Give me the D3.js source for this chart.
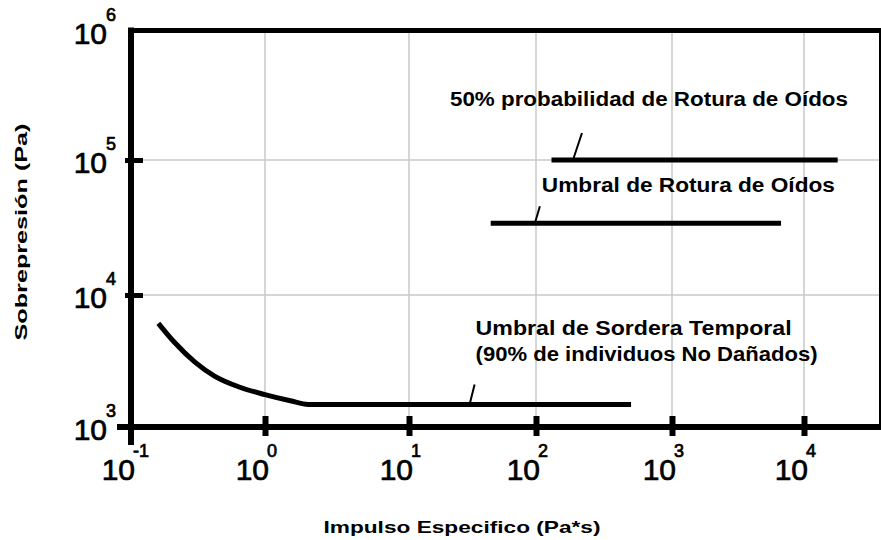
<!DOCTYPE html>
<html>
<head>
<meta charset="utf-8">
<script src="https://cdn.jsdelivr.net/npm/d3@7/dist/d3.min.js"></script>
<style>
  body { margin: 0; background: #fff; }
  svg { display: block; }
  text { font-family: "Liberation Sans", Arial, sans-serif; fill: #000; }
  .tickLabel { stroke: #000; stroke-width: 0.7px; }
</style>
</head>
<body>
<div id="chart"></div>
<script>
// tick values (decades) and their exponents
const xDecades = [0.1, 1, 10, 100, 1000, 10000];
const xExponents = ["-1", "0", "1", "2", "3", "4"];
const yDecades = [1e3, 1e4, 1e5, 1e6];
const yExponents = ["3", "4", "5", "6"];

// Umbral de sordera temporal (curve + flat part)
const tempImpulse = [0.16, 0.21, 0.3, 0.42, 0.65, 1.0, 1.5, 2.0, 500];
const tempPressure = [6100, 4400, 3100, 2430, 2000, 1760, 1580, 1480, 1480];

// Umbral de rotura de oidos
const ruptureImpulse = [44, 6700];
const rupturePressure = [34000, 34000];

// 50% probabilidad de rotura de oidos
const rupture50Impulse = [130, 18000];
const rupture50Pressure = [1e5, 1e5];

// where the little leader lines touch each curve
const leaderImpulse = [187, 98, 30];
const leaderPressure = [1e5, 34000, 1480];

const width = 881, height = 540;

const svg = d3.select("#chart").append("svg")
  .attr("width", width)
  .attr("height", height);

// the original figure is slightly uneven, hence the piecewise ranges
const x = d3.scaleLog().domain(xDecades).range([131, 265, 409, 536, 672, 804]);
const y = d3.scaleLog().domain(yDecades).range([427, 295, 160, 30.5]);

const gridColor = "#c8c8c8";

// gridlines
svg.append("g")
  .selectAll("line")
  .data(xDecades.slice(1))
  .enter().append("line")
  .attr("x1", d => x(d)).attr("x2", d => x(d))
  .attr("y1", y(1e6)).attr("y2", y(1e3))
  .attr("stroke", gridColor).attr("stroke-width", 1.5);

svg.append("g")
  .selectAll("line")
  .data([1e4, 1e5])
  .enter().append("line")
  .attr("x1", x(0.1)).attr("x2", width)
  .attr("y1", d => y(d)).attr("y2", d => y(d))
  .attr("stroke", gridColor).attr("stroke-width", 1.5);

// frame: top border, left and bottom axes, thin right edge
svg.append("line")
  .attr("x1", x(0.1) - 3).attr("x2", width)
  .attr("y1", y(1e6)).attr("y2", y(1e6))
  .attr("stroke", "#000").attr("stroke-width", 5);
svg.append("line")
  .attr("x1", width - 1).attr("x2", width - 1)
  .attr("y1", y(1e6)).attr("y2", y(1e3))
  .attr("stroke", "#000").attr("stroke-width", 2);
svg.append("line")
  .attr("x1", 117).attr("x2", width)
  .attr("y1", y(1e3)).attr("y2", y(1e3))
  .attr("stroke", "#000").attr("stroke-width", 6);
svg.append("line")
  .attr("x1", x(0.1)).attr("x2", x(0.1))
  .attr("y1", y(1e6) - 3).attr("y2", 445)
  .attr("stroke", "#000").attr("stroke-width", 6);

// tick marks crossing the axes
const xAxis = svg.append("g")
  .attr("transform", "translate(0," + (y(1e3) - 11) + ")")
  .call(d3.axisBottom(x).tickValues(xDecades.slice(1)).tickSizeInner(20).tickSizeOuter(0).tickFormat(""));
xAxis.select(".domain").remove();
xAxis.selectAll(".tick line").attr("stroke", "#000").attr("stroke-width", 6);

const yAxis = svg.append("g")
  .attr("transform", "translate(" + (x(0.1) + 12) + ",0)")
  .call(d3.axisLeft(y).tickValues([1e4, 1e5]).tickSizeInner(18).tickSizeOuter(0).tickFormat(""));
yAxis.select(".domain").remove();
yAxis.selectAll(".tick line").attr("stroke", "#000").attr("stroke-width", 5);

// x tick labels: 10 with superscript exponent
const xLab = svg.append("g").selectAll("g")
  .data(xDecades)
  .enter().append("g");
xLab.append("text")
  .attr("class", "tickLabel")
  .attr("x", d => x(d) + 4)
  .attr("y", 480)
  .attr("text-anchor", "end")
  .style("font-size", "30px")
  .text("10");
xLab.append("text")
  .attr("class", "tickLabel")
  .attr("x", d => x(d) + 2)
  .attr("y", 457)
  .style("font-size", "18px")
  .text((d, i) => xExponents[i]);

// y tick labels
const yLab = svg.append("g").selectAll("g")
  .data(yDecades)
  .enter().append("g");
yLab.append("text")
  .attr("class", "tickLabel")
  .attr("x", 107)
  .attr("y", d => y(d) + 13)
  .attr("text-anchor", "end")
  .style("font-size", "30px")
  .text("10");
yLab.append("text")
  .attr("class", "tickLabel")
  .attr("x", 106)
  .attr("y", d => y(d) - 10)
  .style("font-size", "18px")
  .text((d, i) => yExponents[i]);

// axis titles
svg.append("text")
  .attr("x", 462).attr("y", 533)
  .attr("text-anchor", "middle")
  .attr("textLength", 277).attr("lengthAdjust", "spacingAndGlyphs")
  .style("font-size", "17px").style("font-weight", "bold")
  .text("Impulso Especifico (Pa*s)");

svg.append("text")
  .attr("transform", "translate(27,232) rotate(-90)")
  .attr("text-anchor", "middle")
  .attr("textLength", 217).attr("lengthAdjust", "spacingAndGlyphs")
  .style("font-size", "16px").style("font-weight", "bold")
  .text("Sobrepresión (Pa)");

// curves
const line = d3.line()
  .x(d => x(d[0]))
  .y(d => y(d[1]))
  .curve(d3.curveMonotoneX);

const series = [
  d3.zip(rupture50Impulse, rupture50Pressure),
  d3.zip(ruptureImpulse, rupturePressure),
  d3.zip(tempImpulse, tempPressure)
];

svg.append("g")
  .selectAll("path")
  .data(series)
  .enter().append("path")
  .attr("d", line)
  .attr("fill", "none")
  .attr("stroke", "#000")
  .attr("stroke-width", 5)
  .attr("stroke-linejoin", "round");

// leaders + annotation texts
const notes = [
  { lines: ["50% probabilidad de Rotura de Oídos"], lens: [398], dx: 9, dy: -27, tx: -132, ty: -27 },
  { lines: ["Umbral de Rotura de Oídos"], lens: [293], dx: 5, dy: -17, tx: 2, ty: -14 },
  { lines: ["Umbral de Sordera Temporal", "(90% de individuos No Dañados)"], lens: [316, 342], dx: 5, dy: -20, tx: 1, ty: -50 }
];

notes.forEach((n, i) => {
  const px = x(leaderImpulse[i]), py = y(leaderPressure[i]);
  const topX = px + n.dx, topY = py + n.dy;
  svg.append("line")
    .attr("x1", px).attr("y1", py)
    .attr("x2", topX).attr("y2", topY)
    .attr("stroke", "#000").attr("stroke-width", 2);
  n.lines.forEach((t, j) => {
    svg.append("text")
      .attr("x", topX + n.tx)
      .attr("y", topY + n.ty + j * 26)
      .attr("textLength", n.lens[j]).attr("lengthAdjust", "spacingAndGlyphs")
      .style("font-size", "20px").style("font-weight", "bold")
      .text(t);
  });
});
</script>
</body>
</html>
